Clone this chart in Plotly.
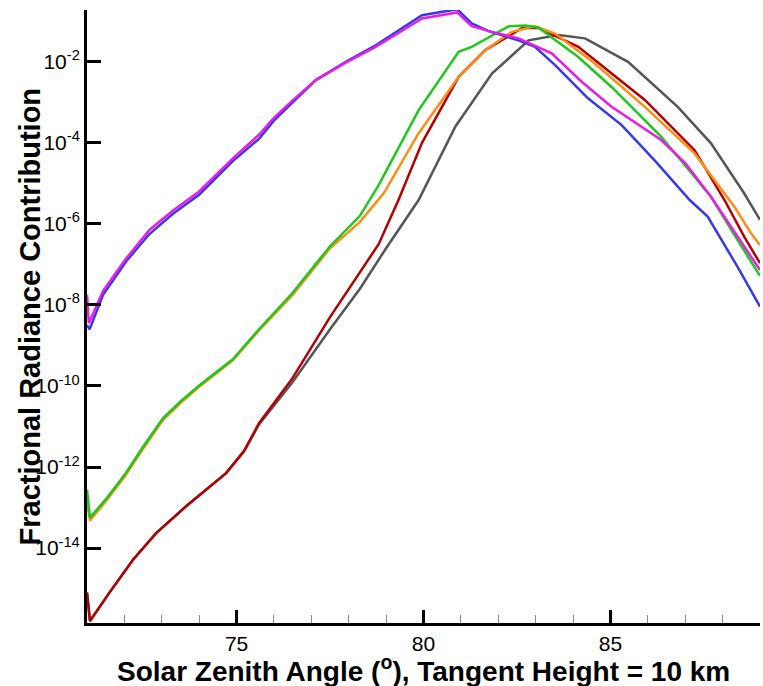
import plotly.graph_objects as go

# Solar zenith angle (deg) sample points and log10 of the fractional radiance contribution
blue_x = [71.0, 71.07, 71.43, 72.05, 72.67, 73.3, 74.0, 74.9, 75.6, 76.0, 76.5, 77.12, 77.92, 78.72,
          79.96, 80.9, 81.29, 81.74, 82.54, 82.98, 83.52, 84.4, 85.3, 86.2, 87.12, 87.6, 88.4, 89.0]
blue_log = [-8.5, -8.6, -7.75, -6.92, -6.25, -5.75, -5.28, -4.45, -3.9, -3.45, -3.0, -2.45, -2.0, -1.59,
            -0.85, -0.70, -1.05, -1.24, -1.47, -1.63, -2.08, -2.90, -3.56, -4.45, -5.41, -5.82, -7.06, -8.04]

magenta_x = [71.0, 71.05, 71.43, 72.05, 72.67, 73.3, 74.0, 74.9, 75.6, 76.0, 76.5, 77.12, 77.92, 78.72,
             79.96, 80.9, 81.29, 81.83, 82.54, 83.43, 84.23, 85.03, 86.36, 87.0, 87.69, 88.4, 89.0]
magenta_log = [-7.75, -8.45, -7.65, -6.85, -6.15, -5.67, -5.2, -4.38, -3.8, -3.38, -2.95, -2.45, -2.02, -1.63,
               -0.93, -0.78, -1.12, -1.26, -1.42, -1.79, -2.49, -3.11, -3.93, -4.5, -5.33, -6.32, -7.14]

green_x = [71.0, 71.08, 71.5, 72.0, 72.5, 73.03, 73.5, 74.0, 74.9, 75.6, 76.5, 77.5, 78.3, 78.8,
           79.87, 80.94, 81.29, 82.28, 82.72, 83.07, 84.14, 85.03, 86.36, 87.69, 88.4, 89.0]
green_log = [-12.56, -13.25, -12.8, -12.2, -11.5, -10.8, -10.38, -9.99, -9.34, -8.6, -7.7, -6.55, -5.8, -5.04,
             -3.19, -1.75, -1.63, -1.12, -1.10, -1.15, -1.88, -2.62, -3.85, -5.33, -6.4, -7.28]

orange_x = [71.0, 71.08, 71.5, 72.0, 72.5, 73.03, 73.5, 74.0, 74.9, 75.6, 76.5, 77.5, 78.3, 78.94,
            79.87, 80.94, 81.65, 82.36, 82.98, 83.52, 84.58, 85.92, 87.25, 88.32, 88.76, 89.0]
orange_log = [-12.85, -13.32, -12.85, -12.25, -11.55, -10.84, -10.42, -10.02, -9.37, -8.63, -7.75, -6.6, -5.95, -5.24,
              -3.76, -2.37, -1.71, -1.26, -1.12, -1.30, -2.04, -3.11, -4.26, -5.58, -6.23, -6.52]

red_x = [71.0, 71.08, 71.6, 72.23, 72.85, 73.65, 74.72, 75.2, 75.6, 76.5, 77.5, 78.3, 78.8,
         79.33, 79.96, 80.94, 81.65, 82.63, 83.07, 84.14, 85.92, 87.25, 88.05, 88.58, 89.0]
red_log = [-15.1, -15.8, -15.1, -14.29, -13.63, -12.97, -12.15, -11.6, -10.92, -9.8, -8.3, -7.2, -6.5,
           -5.41, -4.0, -2.37, -1.71, -1.17, -1.16, -1.63, -2.94, -4.18, -5.41, -6.32, -6.97]

gray_x = [71.0, 71.08, 71.6, 72.23, 72.85, 73.65, 74.72, 75.2, 75.6, 76.5, 77.5, 78.3, 79.0,
          79.87, 80.85, 81.83, 82.81, 83.61, 84.32, 85.47, 86.8, 87.69, 88.58, 89.0]
gray_log = [-15.1, -15.8, -15.1, -14.29, -13.63, -12.97, -12.15, -11.62, -10.95, -9.9, -8.6, -7.6, -6.6,
            -5.41, -3.60, -2.29, -1.47, -1.34, -1.42, -2.0, -3.11, -4.01, -5.25, -5.90]

x_tick_vals = [75, 80, 85]
y_exponents = [-2, -4, -6, -8, -10, -12, -14]

series = [
    (gray_x, gray_log, "#555555"),
    (red_x, red_log, "#b40000"),
    (orange_x, orange_log, "#ff8c14"),
    (green_x, green_log, "#1ec81e"),
    (blue_x, blue_log, "#3838e6"),
    (magenta_x, magenta_log, "#e61ee6"),
]

fig = go.Figure()
for xs, logs, color in series:
    fig.add_trace(go.Scatter(
        x=xs, y=[10 ** v for v in logs], mode="lines",
        line=dict(color=color, width=2.5), showlegend=False, hoverinfo="skip",
    ))

font_family = "Liberation Sans, Arial, sans-serif"

fig.update_layout(
    width=763, height=686,
    margin=dict(l=87, r=3, t=10, b=63),
    paper_bgcolor="white", plot_bgcolor="white",
    font=dict(family=font_family, color="black", size=21),
    xaxis=dict(
        range=[71, 89], showgrid=False, zeroline=False,
        showline=True, linecolor="black", linewidth=3,
        ticks="inside", ticklen=13, tickwidth=3, tickcolor="black",
        tickvals=x_tick_vals, ticktext=[str(v) for v in x_tick_vals],
        tickfont=dict(size=21), ticklabelstandoff=0,
        minor=dict(dtick=1, ticks="inside", ticklen=8, tickwidth=1, tickcolor="#888888", showgrid=False),
    ),
    yaxis=dict(
        type="log", range=[-15.85, -0.72], showgrid=False, zeroline=False,
        showline=True, linecolor="black", linewidth=3,
        ticks="inside", ticklen=14, tickwidth=3, tickcolor="black",
        tickvals=[10 ** e for e in y_exponents],
        ticktext=[f"10<sup>{e}</sup>" for e in y_exponents],
        tickfont=dict(size=21),
    ),
    annotations=[
        dict(text="<b>Fractional Radiance Contribution</b>", textangle=-90,
             xref="paper", yref="paper", x=-0.0847, y=0.5,
             xanchor="center", yanchor="middle", showarrow=False,
             font=dict(size=29, family=font_family)),
        dict(text="<b>Solar Zenith Angle (<sup>o</sup>), Tangent Height = 10 km</b>",
             xref="paper", yref="paper", x=0.5, y=-0.0747,
             xanchor="center", yanchor="middle", showarrow=False,
             font=dict(size=28, family=font_family)),
    ],
)

fig.write_html("out.html")
